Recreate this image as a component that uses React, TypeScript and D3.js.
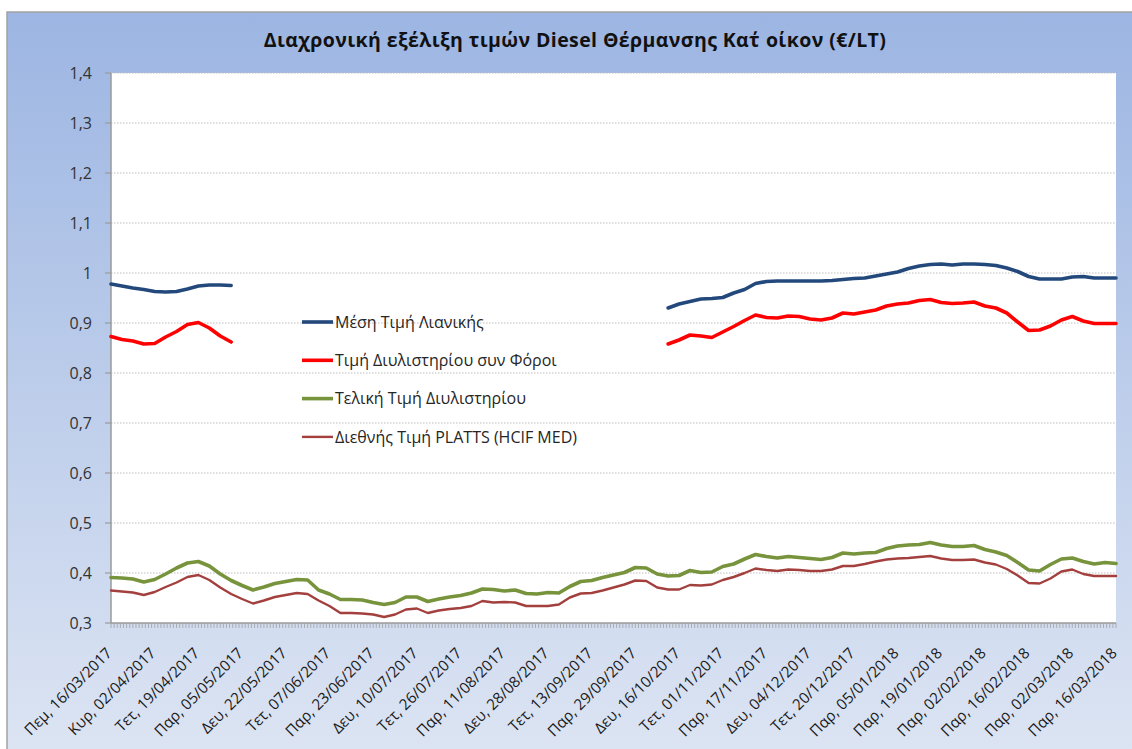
import React from "react";
import * as d3 from "d3";

const TITLE = "Διαχρονική εξέλιξη τιμών Diesel Θέρμανσης Κατ΄ οίκον (€/LT)";

// 323 daily categories, a label every 14 categories
const CATEGORY_COUNT = 323;
const LABEL_EVERY = 14;
const SAMPLE_STEP = 3.5; // values below are read every 3.5 categories

const xTickLabels = [
  "Πεμ, 16/03/2017", "Κυρ, 02/04/2017", "Τετ, 19/04/2017", "Παρ, 05/05/2017",
  "Δευ, 22/05/2017", "Τετ, 07/06/2017", "Παρ, 23/06/2017", "Δευ, 10/07/2017",
  "Τετ, 26/07/2017", "Παρ, 11/08/2017", "Δευ, 28/08/2017", "Τετ, 13/09/2017",
  "Παρ, 29/09/2017", "Δευ, 16/10/2017", "Τετ, 01/11/2017", "Παρ, 17/11/2017",
  "Δευ, 04/12/2017", "Τετ, 20/12/2017", "Παρ, 05/01/2018", "Παρ, 19/01/2018",
  "Παρ, 02/02/2018", "Παρ, 16/02/2018", "Παρ, 02/03/2018", "Παρ, 16/03/2018",
];

const yTicks = [0.3, 0.4, 0.5, 0.6, 0.7, 0.8, 0.9, 1.0, 1.1, 1.2, 1.3, 1.4];

const N = null;
const gap = (n: number) => Array.from({ length: n }, () => N);

// Μέση Τιμή Λιανικής
const retailAvg: (number | null)[] = [
  0.978, 0.974, 0.970, 0.967, 0.963, 0.962, 0.963, 0.968, 0.974, 0.976, 0.976, 0.975,
  ...gap(39),
  0.930, 0.938, 0.943, 0.948, 0.949, 0.951, 0.960, 0.967, 0.979, 0.983,
  0.984, 0.984, 0.984, 0.984, 0.984, 0.985, 0.987, 0.989, 0.990, 0.994,
  0.998, 1.002, 1.009, 1.014, 1.017, 1.018, 1.016, 1.018, 1.018, 1.017,
  1.015, 1.010, 1.003, 0.993, 0.988, 0.988, 0.988, 0.992, 0.993, 0.990,
  0.990, 0.990,
];

// Τιμή Διυλιστηρίου συν Φόροι
const refineryTaxes: (number | null)[] = [
  0.873, 0.867, 0.864, 0.858, 0.859, 0.872, 0.883, 0.897, 0.901, 0.890, 0.874, 0.862,
  ...gap(39),
  0.858, 0.866, 0.876, 0.874, 0.871, 0.882, 0.893, 0.905, 0.916, 0.911,
  0.910, 0.914, 0.913, 0.908, 0.906, 0.910, 0.920, 0.918, 0.922, 0.926,
  0.934, 0.938, 0.940, 0.945, 0.947, 0.941, 0.939, 0.940, 0.942, 0.934,
  0.930, 0.920, 0.902, 0.885, 0.886, 0.894, 0.906, 0.913, 0.904, 0.899,
  0.899, 0.899,
];

// Τελική Τιμή Διυλιστηρίου
const refineryFinal: number[] = [
  0.391, 0.390, 0.388, 0.382, 0.387, 0.398, 0.410, 0.420, 0.423, 0.414,
  0.398, 0.385, 0.375, 0.366, 0.372, 0.379, 0.383, 0.387, 0.386, 0.366,
  0.358, 0.347, 0.347, 0.346, 0.341, 0.337, 0.341, 0.352, 0.352, 0.343,
  0.348, 0.352, 0.355, 0.360, 0.368, 0.367, 0.364, 0.366, 0.359, 0.358,
  0.361, 0.360, 0.373, 0.383, 0.385, 0.391, 0.396, 0.401, 0.411, 0.410,
  0.398, 0.394, 0.395, 0.405, 0.401, 0.402, 0.413, 0.418, 0.428, 0.437,
  0.433, 0.430, 0.433, 0.431, 0.429, 0.427, 0.431, 0.440, 0.438, 0.440,
  0.441, 0.449, 0.454, 0.456, 0.457, 0.461, 0.456, 0.453, 0.453, 0.455,
  0.447, 0.442, 0.435, 0.421, 0.406, 0.404, 0.417, 0.428, 0.430, 0.423,
  0.418, 0.421, 0.419,
];

// Διεθνής Τιμή PLATTS (HCIF MED)
const platts: number[] = [
  0.365, 0.363, 0.361, 0.356, 0.362, 0.372, 0.381, 0.392, 0.396, 0.386,
  0.371, 0.358, 0.348, 0.339, 0.345, 0.352, 0.356, 0.360, 0.358, 0.345,
  0.334, 0.320, 0.320, 0.319, 0.317, 0.312, 0.317, 0.327, 0.329, 0.320,
  0.325, 0.328, 0.330, 0.334, 0.344, 0.341, 0.342, 0.341, 0.334, 0.334,
  0.334, 0.337, 0.351, 0.359, 0.360, 0.365, 0.371, 0.377, 0.385, 0.384,
  0.371, 0.367, 0.367, 0.376, 0.375, 0.377, 0.386, 0.392, 0.400, 0.409,
  0.406, 0.404, 0.407, 0.406, 0.404, 0.404, 0.407, 0.414, 0.414, 0.418,
  0.423, 0.427, 0.429, 0.430, 0.432, 0.434, 0.429, 0.426, 0.426, 0.427,
  0.421, 0.417, 0.408, 0.395, 0.380, 0.379, 0.389, 0.403, 0.407, 0.398,
  0.394, 0.394, 0.394,
];

const seriesNames = [
  "Μέση Τιμή Λιανικής",
  "Τιμή Διυλιστηρίου συν Φόροι",
  "Τελική Τιμή Διυλιστηρίου",
  "Διεθνής Τιμή PLATTS (HCIF MED)",
];
const seriesValues = [retailAvg, refineryTaxes, refineryFinal, platts];
const seriesColors = ["#23497c", "#ff0000", "#77933c", "#a3403d"];
const seriesWidths = [3.6, 3.6, 3.6, 2.4];

const W = 1132;
const H = 749;
const plot = { left: 111, top: 73, right: 1116, bottom: 623 };
const FONT = "'Open Sans', 'DejaVu Sans', sans-serif";

export default function App() {
  const x = d3.scaleLinear().domain([0, CATEGORY_COUNT - 1]).range([plot.left, plot.right]);
  const y = d3.scaleLinear().domain([0.3, 1.4]).range([plot.bottom, plot.top]);
  const fmt = (v: number) => String(Math.round(v * 10) / 10).replace(".", ",");

  const line = d3
    .line<number | null>()
    .defined((d) => d !== null)
    .x((_, i) => x(i * SAMPLE_STEP))
    .y((d) => y(d as number))
    .curve(d3.curveLinear);

  const minorTicks = d3.range(0, CATEGORY_COUNT);

  return (
    <svg
      width={W}
      height={H}
      style={{ position: "absolute", left: 0, top: 0, display: "block" }}
      fontFamily={FONT}
    >
      <defs>
        <linearGradient id="bg" x1="0" y1="0" x2="0" y2="1">
          <stop offset="0%" stopColor="#9cb5e2" />
          <stop offset="100%" stopColor="#dde5f3" />
        </linearGradient>
      </defs>
      <rect x={0} y={0} width={W} height={H} fill="#ffffff" />
      <rect x={7} y={12} width={W} height={H} fill="url(#bg)" stroke="#a3a3a3" strokeWidth={1.5} />

      <text
        x={575}
        y={47}
        textAnchor="middle"
        fontSize={19.5}
        fontWeight="bold"
        letterSpacing={0.4}
        fill="#111111"
      >
        {TITLE}
      </text>

      <rect
        x={plot.left}
        y={plot.top}
        width={plot.right - plot.left}
        height={plot.bottom - plot.top}
        fill="#ffffff"
      />

      {/* gridlines */}
      {yTicks.slice(1).map((t) => (
        <line
          key={"g" + t}
          x1={plot.left}
          x2={plot.right}
          y1={y(t)}
          y2={y(t)}
          stroke="#bdbdbd"
          strokeWidth={1}
          strokeDasharray="1.5,1.5"
        />
      ))}

      {/* y axis */}
      <line x1={plot.left} x2={plot.left} y1={plot.top} y2={plot.bottom} stroke="#9a9a9a" strokeWidth={1.5} />
      {yTicks.map((t) => (
        <g key={"y" + t}>
          <line x1={plot.left - 6} x2={plot.left} y1={y(t)} y2={y(t)} stroke="#9a9a9a" strokeWidth={1.2} />
          <text x={92} y={y(t)} dy="0.35em" textAnchor="end" fontSize={16} fill="#333333">
            {fmt(t)}
          </text>
        </g>
      ))}

      {/* x axis */}
      <line x1={plot.left} x2={plot.right} y1={plot.bottom} y2={plot.bottom} stroke="#9a9a9a" strokeWidth={1.5} />
      {minorTicks.map((c) => (
        <line
          key={"t" + c}
          x1={x(c)}
          x2={x(c)}
          y1={plot.bottom}
          y2={plot.bottom + 5}
          stroke="#a0a0a0"
          strokeWidth={0.8}
        />
      ))}
      {xTickLabels.map((lab, k) => (
        <text
          key={"xl" + k}
          transform={`translate(${x(k * LABEL_EVERY) + 2},${plot.bottom + 31}) rotate(-45)`}
          textAnchor="end"
          fontSize={15.2}
          fill="#1a1a1a"
        >
          {lab}
        </text>
      ))}

      {/* series */}
      {seriesValues.map((vals, s) => (
        <path
          key={"s" + s}
          d={line(vals) || ""}
          fill="none"
          stroke={seriesColors[s]}
          strokeWidth={seriesWidths[s]}
          strokeLinejoin="round"
          strokeLinecap="round"
        />
      ))}

      {/* legend */}
      {seriesNames.map((name, s) => (
        <g key={"lg" + s} transform={`translate(302,${322 + s * 38.3})`}>
          <line x1={0} x2={31} y1={0} y2={0} stroke={seriesColors[s]} strokeWidth={seriesWidths[s]} />
          <text x={33} y={0} dy="0.35em" fontSize={16} fill="#262626">
            {name}
          </text>
        </g>
      ))}
    </svg>
  );
}
